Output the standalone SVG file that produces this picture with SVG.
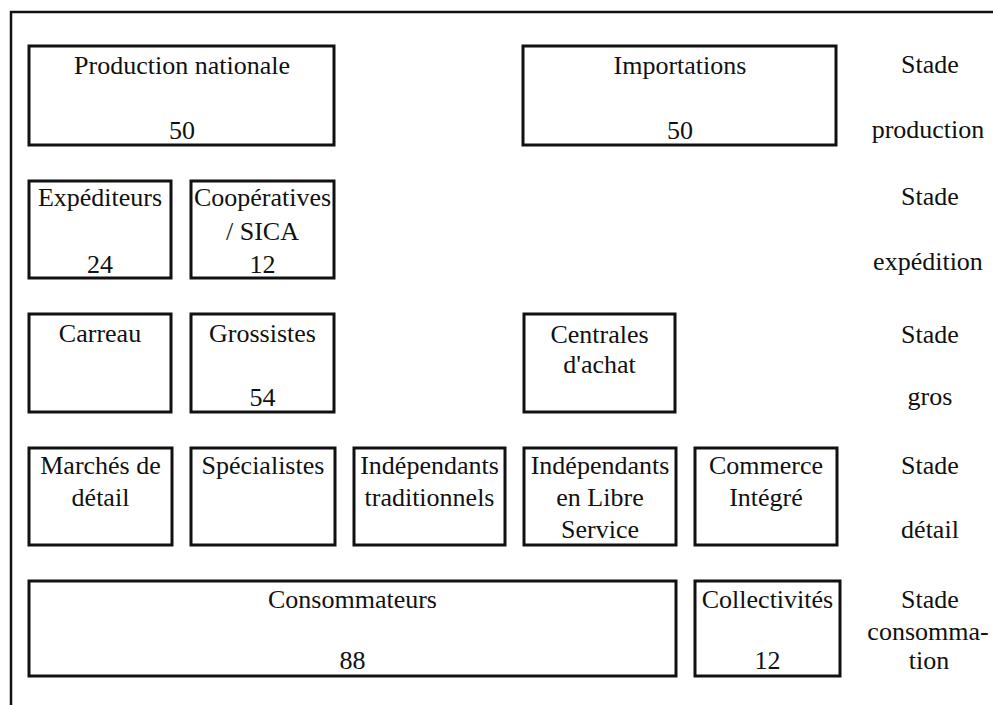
<svg xmlns="http://www.w3.org/2000/svg" width="993" height="705" viewBox="0 0 993 705">
  <style>
    .box { fill: #ffffff; stroke: #111111; stroke-width: 3; }
    .frame { fill: none; stroke: #111111; stroke-width: 2.5; }
  </style>
  <rect x="0" y="0" width="993" height="705" fill="#ffffff"/>

  <!-- page frame: top and left rules only -->
  <path class="frame" d="M11,705 L11,12 L993,12"/>

  <g font-family="Liberation Serif" font-size="26" fill="#111111" text-anchor="middle">
  <!-- production stage -->
  <g id="production-nationale">
    <rect class="box" x="29" y="46" width="305" height="99"/>
    <text x="182" y="74">Production nationale</text>
    <text x="182" y="139">50</text>
  </g>
  <g id="importations">
    <rect class="box" x="523" y="46" width="313" height="99"/>
    <text x="680" y="74">Importations</text>
    <text x="680" y="139">50</text>
  </g>

  <!-- shipping stage -->
  <g id="expediteurs">
    <rect class="box" x="29" y="181" width="142" height="97"/>
    <text x="100" y="206">Expéditeurs</text>
    <text x="100" y="273">24</text>
  </g>
  <g id="cooperatives">
    <rect class="box" x="191" y="181" width="143" height="97"/>
    <text x="262.5" y="206">Coopératives</text>
    <text x="262.5" y="240">/ SICA</text>
    <text x="262.5" y="273">12</text>
  </g>

  <!-- wholesale stage -->
  <g id="carreau">
    <rect class="box" x="29" y="314" width="142" height="98"/>
    <text x="100" y="342">Carreau</text>
  </g>
  <g id="grossistes">
    <rect class="box" x="191" y="314" width="143" height="98"/>
    <text x="262.5" y="342">Grossistes</text>
    <text x="262.5" y="406">54</text>
  </g>
  <g id="centrales-achat">
    <rect class="box" x="524" y="314" width="151" height="98"/>
    <text x="599.5" y="343">Centrales</text>
    <text x="599.5" y="373">d'achat</text>
  </g>

  <!-- retail stage -->
  <g id="marches-detail">
    <rect class="box" x="29" y="448" width="143" height="97"/>
    <text x="100.5" y="474">Marchés de</text>
    <text x="100.5" y="506">détail</text>
  </g>
  <g id="specialistes">
    <rect class="box" x="191" y="448" width="144" height="97"/>
    <text x="263" y="474">Spécialistes</text>
  </g>
  <g id="independants-traditionnels">
    <rect class="box" x="354" y="448" width="151" height="97"/>
    <text x="429.5" y="474">Indépendants</text>
    <text x="429.5" y="506">traditionnels</text>
  </g>
  <g id="independants-libre-service">
    <rect class="box" x="524" y="448" width="152" height="97"/>
    <text x="600" y="474">Indépendants</text>
    <text x="600" y="506">en Libre</text>
    <text x="600" y="538">Service</text>
  </g>
  <g id="commerce-integre">
    <rect class="box" x="695" y="448" width="142" height="97"/>
    <text x="766" y="474">Commerce</text>
    <text x="766" y="506">Intégré</text>
  </g>

  <!-- consumption stage -->
  <g id="consommateurs">
    <rect class="box" x="29" y="581" width="647" height="95"/>
    <text x="352.5" y="608">Consommateurs</text>
    <text x="352.5" y="669">88</text>
  </g>
  <g id="collectivites">
    <rect class="box" x="695" y="581" width="145" height="95"/>
    <text x="767.5" y="608">Collectivités</text>
    <text x="767.5" y="669">12</text>
  </g>

  <!-- stage labels, right column -->
  <g id="stage-labels">
    <text x="930" y="73">Stade</text>
    <text x="928" y="138">production</text>
    <text x="930" y="205">Stade</text>
    <text x="928" y="270">expédition</text>
    <text x="930" y="343">Stade</text>
    <text x="930" y="405">gros</text>
    <text x="930" y="474">Stade</text>
    <text x="930" y="538">détail</text>
    <text x="930" y="608">Stade</text>
    <text x="928" y="640">consomma-</text>
    <text x="929" y="669">tion</text>
  </g>
  </g>

  <!-- no connectors are drawn between the stages -->
  <g id="connectors"/>
</svg>
